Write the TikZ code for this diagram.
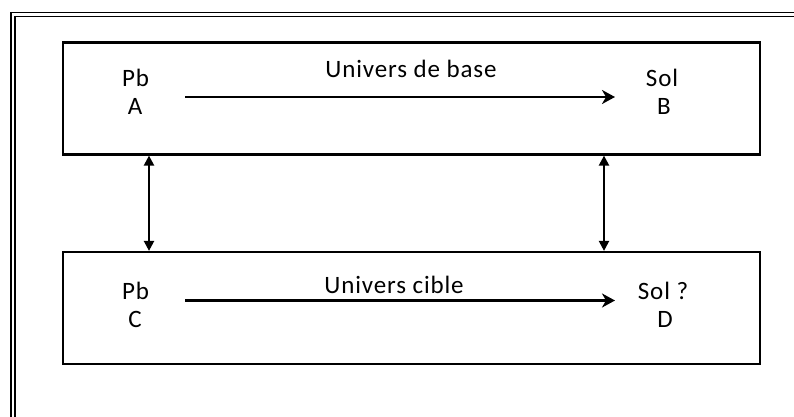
\documentclass[tikz,border=0pt]{standalone}
\usepackage{fontspec}
\setmainfont{Carlito}[LetterSpace=3.5]
\usetikzlibrary{arrows.meta}
\begin{document}
\begin{tikzpicture}[x=1pt,y=-1pt,
  frameline/.style={line width=1.6pt},
  universe/.style={draw, line width=2.2pt, rectangle, minimum width=697pt, minimum height=112pt, inner sep=0pt},
  label/.style={font=\fontsize{25}{29}\selectfont, anchor=base, inner sep=0pt},
  mapsto/.style={line width=2.2pt, -{Stealth[length=13pt,width=14pt,inset=4pt]}},
  link/.style={line width=2.2pt, {Triangle[length=10pt,width=10pt]}-{Triangle[length=10pt,width=10pt]}}]
  \useasboundingbox (0,0) rectangle (794,417);
  % double outer frame, running past the page edges
  \begin{scope}
    \clip (0,0) rectangle (794,417);
    \draw[frameline] (10.7,12.5) rectangle (820,440);
    \draw[frameline] (14.9,16.5) rectangle (815,435);
  \end{scope}
  % the two universes
  \node[universe] (base) at (411.5,98.5) {};
  \node[universe] (cible) at (411.5,308) {};
  % base universe
  \node[label] (pbA) at (135.5,86.5) {Pb};
  \node[label] (A) at (135,114.5) {A};
  \node[label] (solB) at (662,86.5) {Sol};
  \node[label] (B) at (664,114.5) {B};
  \node[label] (ubase) at (411,78) {Univers de base};
  \coordinate (a0) at (185,97);
  \coordinate (a1) at (615,97);
  \draw[mapsto] (a0) -- (a1);
  % target universe
  \node[label] (pbC) at (135.5,299) {Pb};
  \node[label] (C) at (135,327) {C};
  \node[label] (solD) at (663,299) {Sol ?};
  \node[label] (D) at (665,327) {D};
  \node[label] (ucible) at (394,293) {Univers cible};
  \coordinate (c0) at (185,300.5);
  \coordinate (c1) at (615,300.5);
  \draw[mapsto] (c0) -- (c1);
  % correspondences between the universes
  \draw[link] (base.south -| 149,0) -- (cible.north -| 149,0);
  \draw[link] (base.south -| 604,0) -- (cible.north -| 604,0);
\end{tikzpicture}
\end{document}
